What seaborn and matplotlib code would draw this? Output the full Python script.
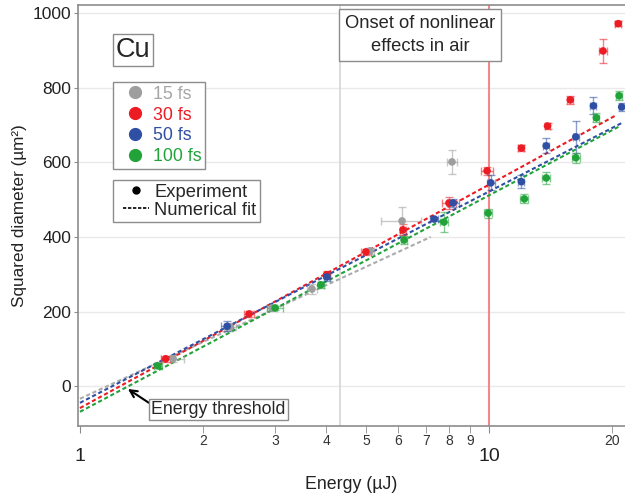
import matplotlib
matplotlib.use("Agg")
import pandas as pd
import matplotlib.pyplot as plt
from matplotlib.lines import Line2D
from matplotlib.legend_handler import HandlerLine2D
import seaborn as sns

# ─────────────────────────────────────────────
# DATOS
# ─────────────────────────────────────────────

pulses = ["15 fs", "30 fs", "50 fs", "100 fs"]
colors = ["#9E9E9E", "#ED1C24", "#2E4FA3", "#22A33A"]
label_colors = ["#A6A6A6", "#ED1C24", "#2E4FA3", "#22A33A"]
fit_colors = ["#ABABAB", "#ED1C24", "#2E4FA3", "#22A33A"]

e_15 = [1.69, 2.33, 2.95, 3.69, 5.12, 6.13, 8.12]
d_15 = [74, 159, 210, 261, 363, 443, 601]
ye_15 = [10, 12, 8, 14, 8, 38, 32]
xe_15 = [0.11, 0.08, 0.08, 0.10, 0.12, 0.69, 0.23]

e_30 = [1.62, 2.59, 4.01, 5.0, 6.16, 7.98, 9.89, 12.0, 13.9, 15.8, 19.0, 20.7]
d_30 = [74, 194, 299, 360, 419, 491, 577, 638, 697, 767, 898, 971]
ye_30 = [8, 8, 10, 8, 15, 15, 10, 8, 8, 10, 32, 6]
xe_30 = [0.04, 0.07, 0.07, 0.14, 0.10, 0.31, 0.33, 0.20, 0.23, 0.27, 0.43, 0.35]

e_50 = [2.29, 4.01, 7.35, 8.17, 10.1, 12.0, 13.8, 16.3, 18.0, 21.1]
d_50 = [161, 293, 448, 491, 545, 548, 644, 668, 751, 748]
ye_50 = [14, 10, 6, 12, 20, 17, 20, 42, 23, 10]
xe_50 = [0.08, 0.07, 0.17, 0.28, 0.23, 0.20, 0.23, 0.28, 0.30, 0.36]

e_100 = [1.55, 3.0, 3.88, 6.2, 7.76, 9.95, 12.2, 13.8, 16.3, 18.3, 20.8]
d_100 = [55, 210, 272, 392, 440, 464, 502, 558, 612, 719, 778]
ye_100 = [6, 6, 8, 10, 28, 12, 12, 16, 14, 12, 12]
xe_100 = [0.035, 0.135, 0.066, 0.10, 0.17, 0.22, 0.27, 0.31, 0.37, 0.31, 0.35]

# extremos de los ajustes numéricos (rectas en eje log)
fit_e_15 = [1.0, 7.2]
fit_d_15 = [-33, 400]
fit_e_30 = [1.0, 20.3]
fit_d_30 = [-58, 724]
fit_e_50 = [1.0, 21.1]
fit_d_50 = [-44, 705]
fit_e_100 = [1.0, 20.9]
fit_d_100 = [-68, 697]

onset_energy = 10.0
gray_line_energy = 4.32
threshold_point = (1.31, -7)
yticks = [0, 200, 400, 600, 800, 1000]
x_major = [1, 10]
x_minor = [2, 3, 4, 5, 6, 7, 8, 9, 20]

EDGE = "#8C8C8C"
TXT = "#222222"


def main():
    sns.set_style("white")
    plt.rcParams["font.family"] = ["Liberation Sans", "DejaVu Sans"]

    series = [
        (e_15, d_15, ye_15, xe_15, fit_e_15, fit_d_15),
        (e_30, d_30, ye_30, xe_30, fit_e_30, fit_d_30),
        (e_50, d_50, ye_50, xe_50, fit_e_50, fit_d_50),
        (e_100, d_100, ye_100, xe_100, fit_e_100, fit_d_100),
    ]
    rows = []
    for name, (e, d, ye, xe, _, _) in zip(pulses, series):
        for i in range(len(e)):
            rows.append({"pulse": name, "energy": e[i], "d2": d[i],
                         "yerr": ye[i], "xerr": xe[i]})
    df = pd.DataFrame(rows)

    fig = plt.figure(figsize=(6.25, 4.98), dpi=100)
    ax = fig.add_axes([78 / 625, 72 / 498, 547 / 625, 421 / 498])
    ax.set_xscale("log")
    ax.set_xlim(0.989, 21.5)
    ax.set_ylim(-106, 1021)

    # rejilla y líneas verticales
    for yv in yticks:
        ax.axhline(yv, color="#EAEAEA", lw=1, zorder=0)
    ax.axvline(gray_line_energy, color="#D6D6D6", lw=1.2, zorder=0)
    ax.axvline(onset_energy, color="#F3888C", lw=1.5, zorder=1)

    # ajustes numéricos
    for col, s in zip(fit_colors, series):
        ax.plot(s[4], s[5], color=col, lw=1.5, ls=(0, (2, 1.3)), zorder=2)

    # barras de error
    for name, col in zip(pulses, colors):
        sub = df[df["pulse"] == name]
        ax.errorbar(sub["energy"], sub["d2"], yerr=sub["yerr"], xerr=sub["xerr"],
                    fmt="none", ecolor=col, alpha=0.55, elinewidth=1,
                    capsize=3, capthick=1, zorder=3)

    sns.scatterplot(data=df, x="energy", y="d2", hue="pulse",
                    palette=dict(zip(pulses, colors)), s=30, edgecolor="none",
                    legend=False, ax=ax, zorder=4)

    # ejes
    ax.spines["right"].set_visible(False)
    for side in ["left", "bottom", "top"]:
        ax.spines[side].set_color(EDGE)
        ax.spines[side].set_linewidth(1.2)

    ax.set_xticks(x_major)
    ax.set_xticklabels([str(v) for v in x_major])
    ax.set_xticks(x_minor, minor=True)
    ax.set_xticklabels([str(v) for v in x_minor], minor=True)
    ax.tick_params(axis="x", which="major", labelsize=14, pad=11, length=5,
                   bottom=True, color=EDGE, labelcolor=TXT)
    ax.tick_params(axis="x", which="minor", labelsize=10, pad=0.5, length=5,
                   bottom=True, color=EDGE, labelcolor="#333333")
    ax.set_yticks(yticks)
    ax.tick_params(axis="y", labelsize=12.5, length=3, left=True, pad=2,
                   color=EDGE, labelcolor=TXT)

    ax.set_xlabel("Energy (µJ)", fontsize=12.8, color=TXT, labelpad=8)
    ax.set_ylabel("Squared diameter (µm²)", fontsize=12.3, color=TXT, labelpad=4)

    # textos
    ax.text(0.1005, 0.893, "Cu", transform=ax.transAxes, ha="center", va="center",
            fontsize=19.5, bbox=dict(boxstyle="square,pad=0.1", fc="white", ec=EDGE))
    ax.text(0.625, 0.929, "Onset of nonlinear\neffects in air", transform=ax.transAxes,
            ha="center", va="center", fontsize=13.2, linespacing=1.5, zorder=6,
            bbox=dict(boxstyle="square,pad=0.3", fc="white", ec=EDGE))
    ax.annotate("Energy threshold", xy=threshold_point, xycoords="data",
                xytext=(0.257, 0.039), textcoords="axes fraction",
                ha="center", va="center", fontsize=12.8, zorder=6,
                bbox=dict(boxstyle="square,pad=0.12", fc="white", ec=EDGE),
                arrowprops=dict(arrowstyle="->", color="black", lw=1.5,
                                shrinkA=0, shrinkB=0, relpos=(0.0, 0.8)))

    # leyendas
    handles = [Line2D([], [], marker="o", ls="", color=c, markersize=8.5) for c in colors]
    leg1 = ax.legend(handles, pulses, loc="upper left", bbox_to_anchor=(0.064, 0.817),
                     fontsize=12.8, labelcolor=label_colors, frameon=True,
                     fancybox=False, edgecolor=EDGE, framealpha=1, borderpad=0.2,
                     labelspacing=0.22, handletextpad=0.0, handlelength=2.05,
                     borderaxespad=0)
    ax.add_artist(leg1)
    handles2 = [Line2D([], [], marker="o", ls="", color="black", markersize=5),
                Line2D([], [], ls=(0, (2, 1)), color="black", lw=1.2)]
    ax.legend(handles2, ["Experiment", "Numerical fit"], loc="upper left",
              bbox_to_anchor=(0.064, 0.584), fontsize=13.2, frameon=True,
              fancybox=False, edgecolor=EDGE, framealpha=1, borderpad=0.2,
              labelspacing=0.05, handletextpad=0.3, handlelength=1.75,
              borderaxespad=0, handler_map={Line2D: HandlerLine2D(xpad=0.35)})

    plt.savefig("out.png", dpi=100)
    plt.close()


if __name__ == "__main__":
    main()
